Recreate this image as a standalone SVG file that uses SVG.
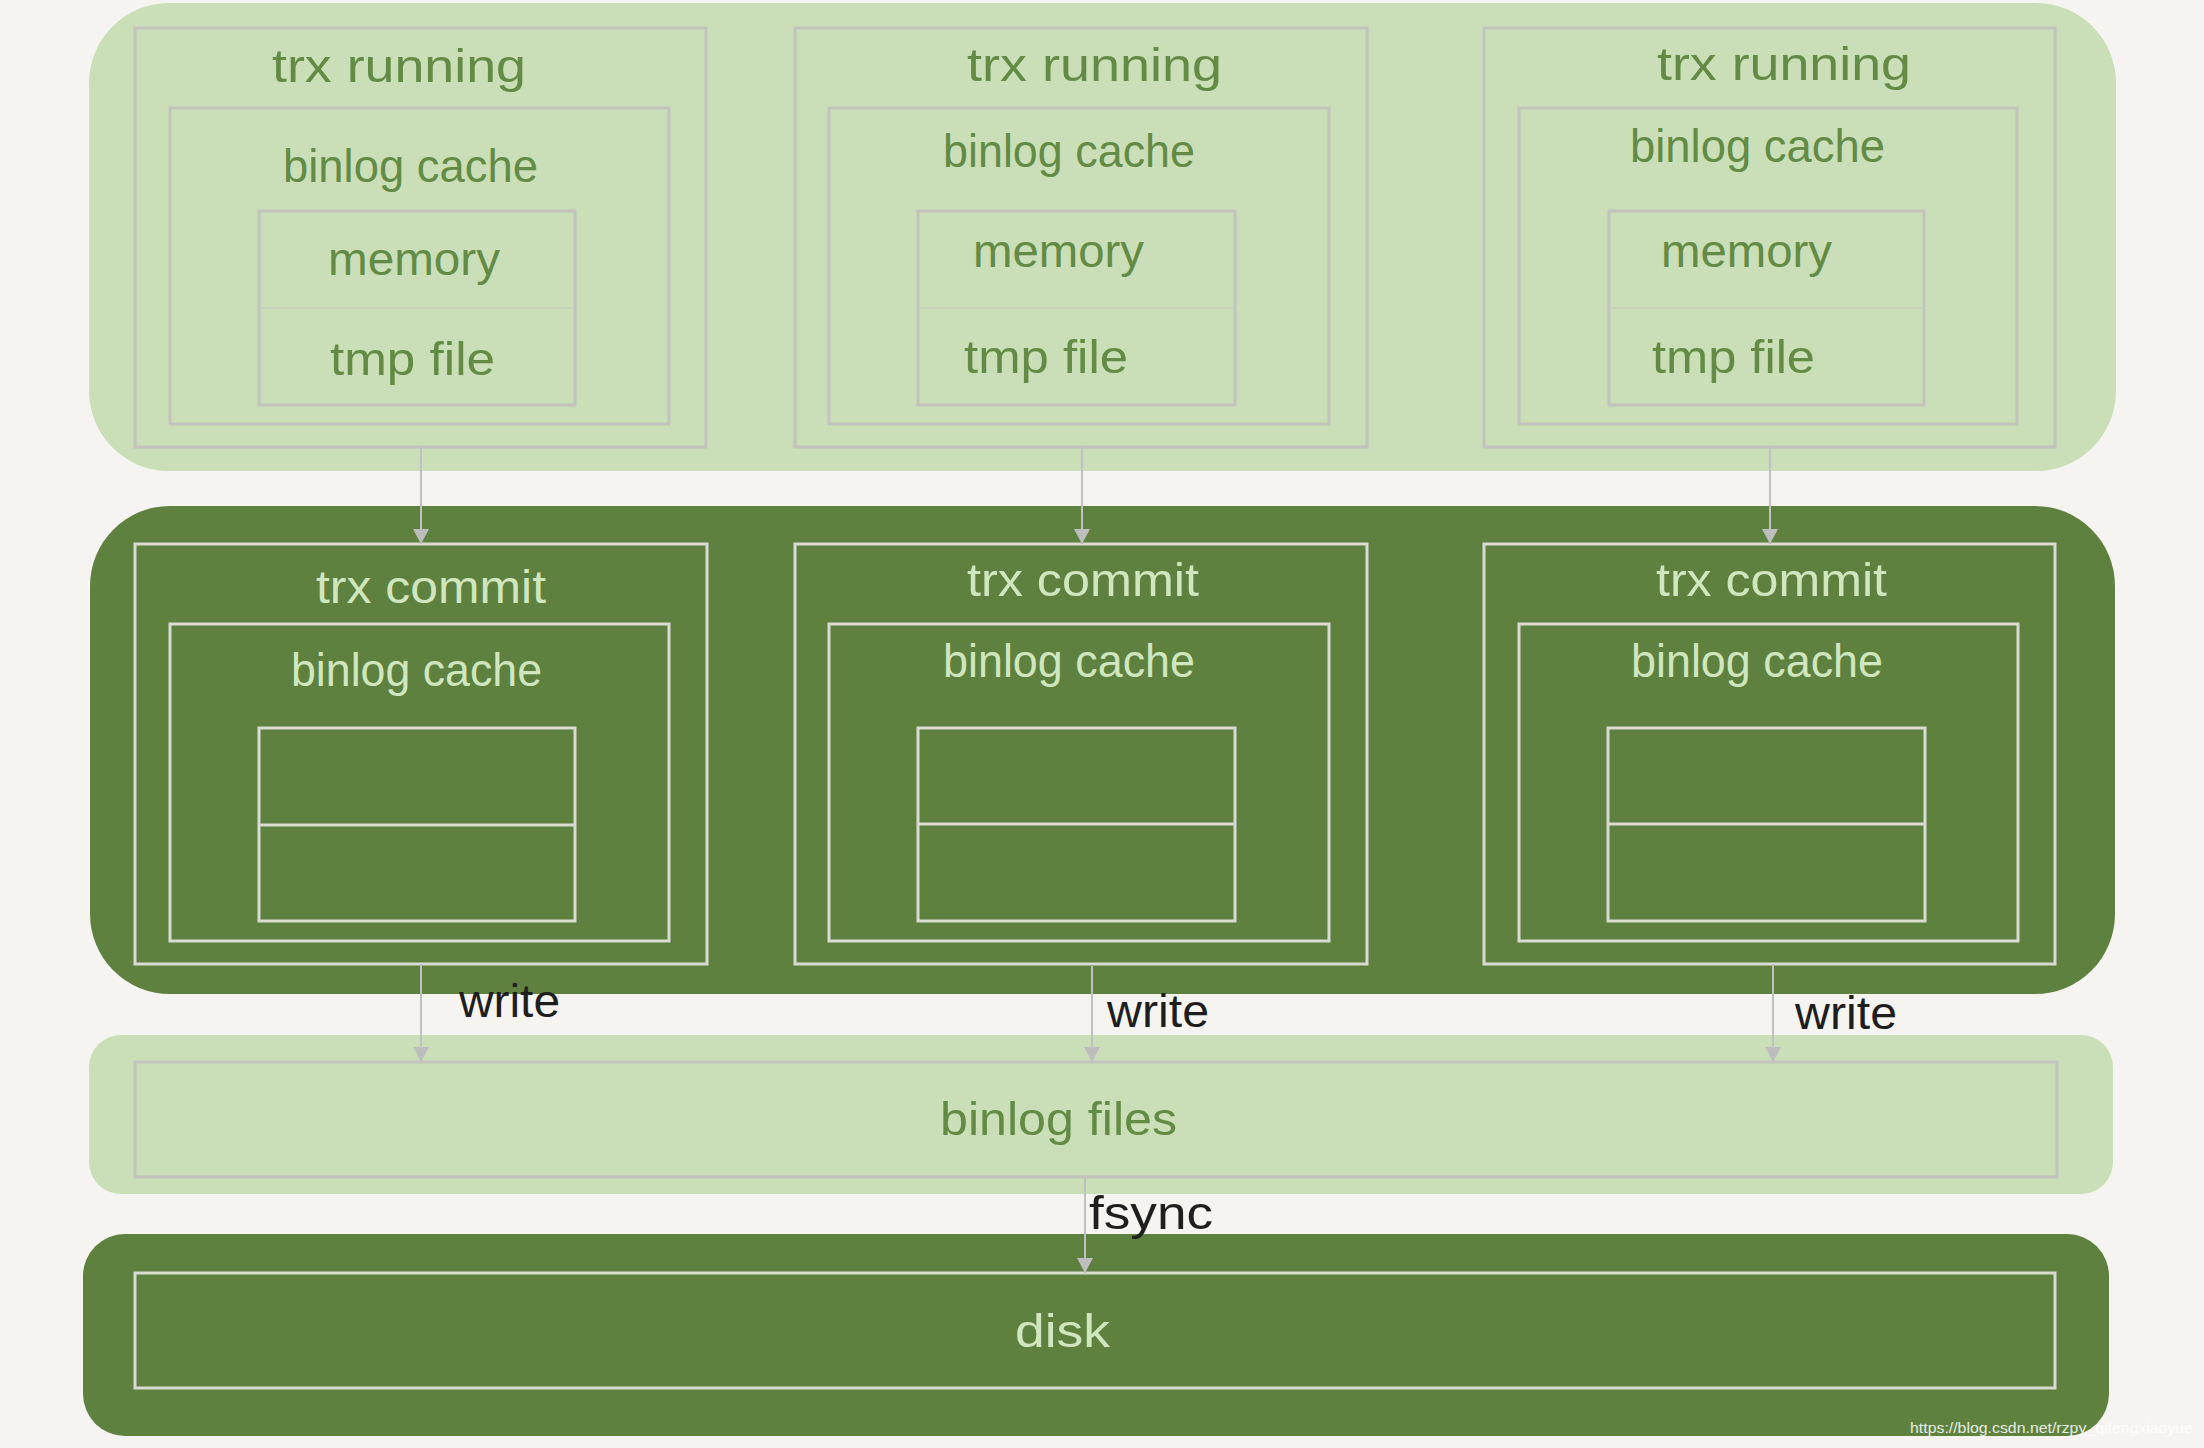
<svg xmlns="http://www.w3.org/2000/svg" width="2204" height="1448" viewBox="0 0 2204 1448">
<style>
.bg{fill:#f5f4f0}
.light{fill:#cadfb7}
.dark{fill:#5e813f}
.lbox{fill:none;stroke:#c2c3bd;stroke-width:3}
.ldiv{stroke:#c5d3bb;stroke-width:2}
.dbox{fill:none;stroke:#d8dbd2;stroke-width:3}
.lt{font-family:"Liberation Sans",Arial,sans-serif;font-size:46px;fill:#638b46}
.dt{font-family:"Liberation Sans",Arial,sans-serif;font-size:46px;fill:#d0e6be}
.bt{font-family:"Liberation Sans",Arial,sans-serif;font-size:46px;fill:#1e1e1e}
.conn{stroke:#c0c0c0;stroke-width:2;fill:none}
.wm{font-family:"Liberation Sans",Arial,sans-serif;font-size:15px;fill:#ffffff;opacity:0.85}
</style>
<defs>
<marker id="ah" markerUnits="userSpaceOnUse" markerWidth="18" markerHeight="18" viewBox="0 0 18 18" refX="16" refY="9" orient="auto">
<path d="M1,1 L16,9 L1,17 Z" fill="#bdbdbd"/>
</marker>
</defs>
<rect class="bg" x="0" y="0" width="2204" height="1448"/>

<g id="band-running">
<rect class="light" x="89" y="3" width="2027" height="468" rx="80" ry="80"/>
</g>
<g id="band-commit">
<rect class="dark" x="90" y="506" width="2025" height="488" rx="80" ry="80"/>
</g>
<g id="band-binlog-files">
<rect class="light" x="89" y="1035" width="2024" height="159" rx="32" ry="32"/>
</g>
<g id="band-disk">
<rect class="dark" x="83" y="1234" width="2026" height="202" rx="42" ry="42"/>
</g>

<g id="running-1">
<rect class="lbox" x="135" y="28" width="571" height="419"/>
<rect class="lbox" x="170" y="108" width="499" height="316"/>
<rect class="lbox" x="259" y="211" width="316" height="194"/>
<line class="ldiv" x1="260" y1="308" x2="574" y2="308"/>
<text class="lt" x="272" y="82" textLength="254" lengthAdjust="spacingAndGlyphs">trx running</text>
<text class="lt" x="283" y="182" textLength="255" lengthAdjust="spacingAndGlyphs">binlog cache</text>
<text class="lt" x="328" y="275" textLength="172" lengthAdjust="spacingAndGlyphs">memory</text>
<text class="lt" x="330" y="375" textLength="165" lengthAdjust="spacingAndGlyphs">tmp file</text>
</g>
<g id="running-2">
<rect class="lbox" x="795" y="28" width="572" height="419"/>
<rect class="lbox" x="829" y="108" width="500" height="316"/>
<rect class="lbox" x="918" y="211" width="317" height="194"/>
<line class="ldiv" x1="919" y1="308" x2="1234" y2="308"/>
<text class="lt" x="967" y="81" textLength="255" lengthAdjust="spacingAndGlyphs">trx running</text>
<text class="lt" x="943" y="167" textLength="252" lengthAdjust="spacingAndGlyphs">binlog cache</text>
<text class="lt" x="973" y="267" textLength="171" lengthAdjust="spacingAndGlyphs">memory</text>
<text class="lt" x="964" y="373" textLength="164" lengthAdjust="spacingAndGlyphs">tmp file</text>
</g>
<g id="running-3">
<rect class="lbox" x="1484" y="28" width="571" height="419"/>
<rect class="lbox" x="1519" y="108" width="498" height="316"/>
<rect class="lbox" x="1609" y="211" width="315" height="194"/>
<line class="ldiv" x1="1610" y1="308" x2="1923" y2="308"/>
<text class="lt" x="1657" y="80" textLength="254" lengthAdjust="spacingAndGlyphs">trx running</text>
<text class="lt" x="1630" y="162" textLength="255" lengthAdjust="spacingAndGlyphs">binlog cache</text>
<text class="lt" x="1661" y="267" textLength="171" lengthAdjust="spacingAndGlyphs">memory</text>
<text class="lt" x="1652" y="373" textLength="163" lengthAdjust="spacingAndGlyphs">tmp file</text>
</g>

<g id="commit-1">
<rect class="dbox" x="135" y="544" width="572" height="420"/>
<rect class="dbox" x="170" y="624" width="499" height="317"/>
<rect class="dbox" x="259" y="728" width="316" height="193"/>
<line class="dbox" x1="259" y1="825" x2="575" y2="825" stroke-width="2"/>
<text class="dt" x="316" y="603" textLength="230" lengthAdjust="spacingAndGlyphs">trx commit</text>
<text class="dt" x="291" y="686" textLength="251" lengthAdjust="spacingAndGlyphs">binlog cache</text>
</g>
<g id="commit-2">
<rect class="dbox" x="795" y="544" width="572" height="420"/>
<rect class="dbox" x="829" y="624" width="500" height="317"/>
<rect class="dbox" x="918" y="728" width="317" height="193"/>
<line class="dbox" x1="918" y1="824" x2="1235" y2="824" stroke-width="2"/>
<text class="dt" x="967" y="596" textLength="232" lengthAdjust="spacingAndGlyphs">trx commit</text>
<text class="dt" x="943" y="677" textLength="252" lengthAdjust="spacingAndGlyphs">binlog cache</text>
</g>
<g id="commit-3">
<rect class="dbox" x="1484" y="544" width="571" height="420"/>
<rect class="dbox" x="1519" y="624" width="499" height="317"/>
<rect class="dbox" x="1608" y="728" width="317" height="193"/>
<line class="dbox" x1="1608" y1="824" x2="1925" y2="824" stroke-width="2"/>
<text class="dt" x="1656" y="596" textLength="231" lengthAdjust="spacingAndGlyphs">trx commit</text>
<text class="dt" x="1631" y="677" textLength="252" lengthAdjust="spacingAndGlyphs">binlog cache</text>
</g>

<g id="binlog-files">
<rect class="lbox" x="135" y="1062" width="1922" height="115"/>
<text class="lt" x="940" y="1135" textLength="237" lengthAdjust="spacingAndGlyphs">binlog files</text>
</g>
<g id="disk">
<rect class="dbox" x="135" y="1273" width="1920" height="115"/>
<text class="dt" x="1015" y="1347" textLength="95" lengthAdjust="spacingAndGlyphs">disk</text>
</g>

<g id="connectors">
<line class="conn" x1="421" y1="447" x2="421" y2="544" marker-end="url(#ah)"/>
<line class="conn" x1="1082" y1="447" x2="1082" y2="544" marker-end="url(#ah)"/>
<line class="conn" x1="1770" y1="447" x2="1770" y2="544" marker-end="url(#ah)"/>
<line class="conn" x1="421" y1="964" x2="421" y2="1062" marker-end="url(#ah)"/>
<line class="conn" x1="1092" y1="966" x2="1092" y2="1062" marker-end="url(#ah)"/>
<line class="conn" x1="1773" y1="964" x2="1773" y2="1062" marker-end="url(#ah)"/>
<line class="conn" x1="1085" y1="1177" x2="1085" y2="1273" marker-end="url(#ah)"/>
<text class="bt" x="459" y="1017" textLength="101" lengthAdjust="spacingAndGlyphs">write</text>
<text class="bt" x="1107" y="1027" textLength="102" lengthAdjust="spacingAndGlyphs">write</text>
<text class="bt" x="1795" y="1029" textLength="102" lengthAdjust="spacingAndGlyphs">write</text>
<text class="bt" x="1089" y="1229" textLength="124" lengthAdjust="spacingAndGlyphs">fsync</text>
</g>

<text class="wm" x="1910" y="1433" textLength="283" lengthAdjust="spacingAndGlyphs">https://blog.csdn.net/rzpy_qifengxiaoyue</text>
</svg>
